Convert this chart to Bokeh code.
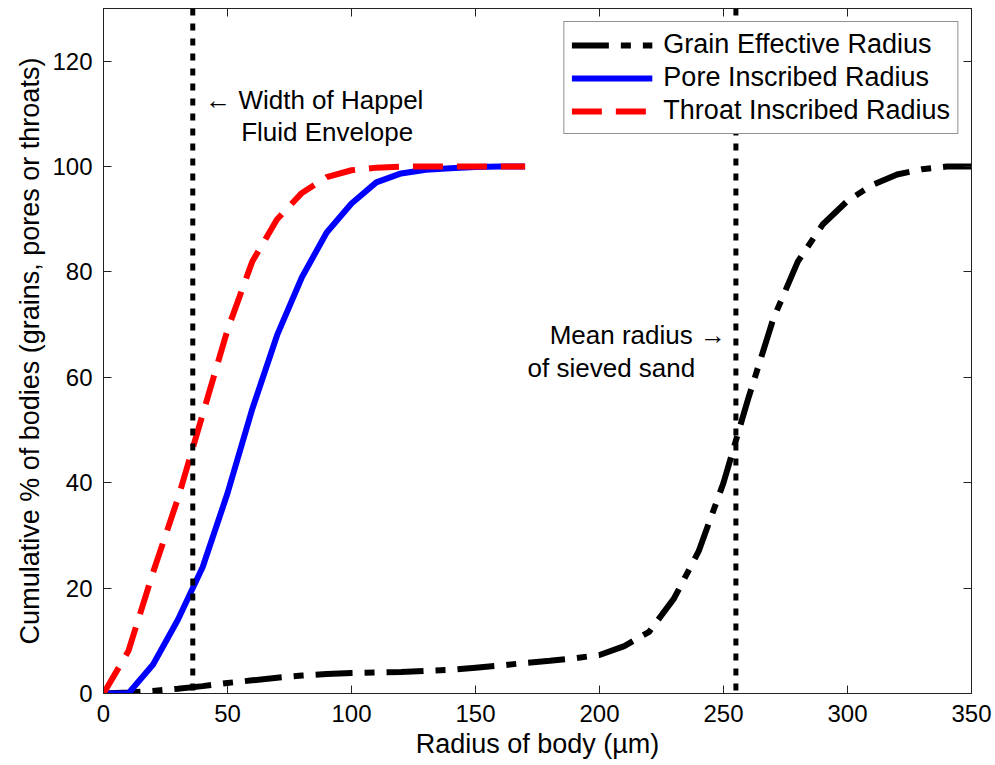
from bokeh.plotting import figure
from bokeh.models import Range1d, LinearAxis, Span, Label, Legend, LegendItem, FixedTicker
from bokeh.embed import file_html
from bokeh.resources import INLINE

# ---- data ----
grain_x = [0, 10, 20, 30, 40, 50, 60, 70, 80, 90, 100, 110, 120, 130, 140, 150, 160, 170,
           180, 190, 200, 210, 220, 230, 240, 250, 260, 270, 280, 290, 300, 310, 320, 330, 340, 350]
grain_y = [0, 0.2, 0.5, 0.9, 1.4, 2.0, 2.5, 3.0, 3.4, 3.7, 3.9, 4.0, 4.1, 4.3, 4.5, 4.9, 5.3, 5.8,
           6.2, 6.7, 7.3, 9.0, 11.7, 18, 27, 40, 56, 71, 82, 89, 93.5, 96.5, 98.5, 99.5, 100, 100]

pore_x = [0, 10, 20, 30, 40, 50, 60, 70, 80, 90, 100, 110, 120, 130, 140, 150, 160, 170]
pore_y = [0, 0, 5.5, 14, 24, 38, 54, 68, 79, 87.5, 93, 97, 98.7, 99.4, 99.7, 99.9, 100, 100]

throat_x = [0, 10, 20, 30, 40, 50, 60, 70, 80, 90, 100, 110, 120, 130, 140, 150, 160, 170]
throat_y = [0, 8, 23, 37, 53, 69, 82, 90, 95, 98, 99.3, 99.8, 100, 100, 100, 100, 100, 100]

happel_radius = 36
mean_sand_radius = 255

x_ticks = [0, 50, 100, 150, 200, 250, 300, 350]
y_ticks = [0, 20, 40, 60, 80, 100, 120]

FONT = "Liberation Sans"

p = figure(width=995, height=765, output_backend="svg", toolbar_location=None,
           x_range=Range1d(0, 350), y_range=Range1d(0, 130),
           min_border_left=103, min_border_right=24, min_border_top=8, min_border_bottom=72)
p.background_fill_color = "white"
p.border_fill_color = "white"
p.grid.visible = False
p.outline_line_color = "#222222"
p.outline_line_width = 1

def style_axis(ax, ticks, labels=True):
    ax.major_tick_in = 8
    ax.major_tick_out = 0
    ax.minor_tick_in = 0
    ax.minor_tick_out = 0
    ax.axis_line_color = "#222222"
    ax.major_tick_line_color = "#222222"
    ax.major_label_text_font = FONT
    ax.major_label_text_color = "black"
    if labels:
        ax.major_label_text_font_size = "24px"
        ax.major_label_standoff = 11
    else:
        ax.major_label_overrides = {t: "" for t in ticks}
        ax.major_label_text_font_size = "1px"
        ax.major_label_standoff = 0

p.xaxis.ticker = FixedTicker(ticks=x_ticks)
p.yaxis.ticker = FixedTicker(ticks=y_ticks)
style_axis(p.xaxis[0], x_ticks)
style_axis(p.yaxis[0], y_ticks)
p.xaxis.axis_label = "Radius of body (µm)"
p.yaxis.axis_label = "Cumulative % of bodies (grains, pores or throats)"
for ax in (p.xaxis[0], p.yaxis[0]):
    ax.axis_label_text_font = FONT
    ax.axis_label_text_font_style = "normal"
    ax.axis_label_text_font_size = "27px"
    ax.axis_label_text_color = "black"
    ax.axis_label_standoff = 4

top_ax = LinearAxis(ticker=FixedTicker(ticks=x_ticks))
style_axis(top_ax, x_ticks, labels=False)
p.add_layout(top_ax, "above")
right_ax = LinearAxis(ticker=FixedTicker(ticks=y_ticks))
style_axis(right_ax, y_ticks, labels=False)
p.add_layout(right_ax, "right")

# vertical dotted reference lines
for loc in (happel_radius, mean_sand_radius):
    p.add_layout(Span(location=loc, dimension="height", line_color="black",
                      line_width=5, line_dash="7 8"))

r_grain = p.line(grain_x, grain_y, line_color="black", line_width=6, line_dash="37 12 10 12")
r_pore = p.line(pore_x, pore_y, line_color="#0000ff", line_width=6)
r_throat = p.line(throat_x, throat_y, line_color="#ff0000", line_width=6, line_dash="30 14")

legend = Legend(items=[
    LegendItem(label="Grain Effective Radius", renderers=[r_grain]),
    LegendItem(label="Pore Inscribed Radius", renderers=[r_pore]),
    LegendItem(label="Throat Inscribed Radius", renderers=[r_throat]),
], location="top_right")
legend.label_text_font = FONT
legend.label_text_font_size = "27px"
legend.label_text_color = "black"
legend.glyph_width = 81
legend.glyph_height = 20
legend.label_height = 20
legend.spacing = 2
legend.padding = 7
legend.margin = 13
legend.label_standoff = 11
legend.border_line_color = "#222222"
legend.border_line_width = 1
legend.background_fill_alpha = 1
p.add_layout(legend)

# annotations
ann = dict(text_font=FONT, text_font_size="26px", text_color="black", text_baseline="middle")
p.add_layout(Label(x=41, y=112.7, text="\u2190 Width of Happel", text_align="left", **ann))
p.add_layout(Label(x=55.5, y=106.5, text="Fluid Envelope", text_align="left", **ann))
p.add_layout(Label(x=251, y=68, text="Mean radius \u2192", text_align="right", **ann))
p.add_layout(Label(x=171, y=61.8, text="of sieved sand", text_align="left", **ann))

open("out.html", "w").write(file_html(p, INLINE))
